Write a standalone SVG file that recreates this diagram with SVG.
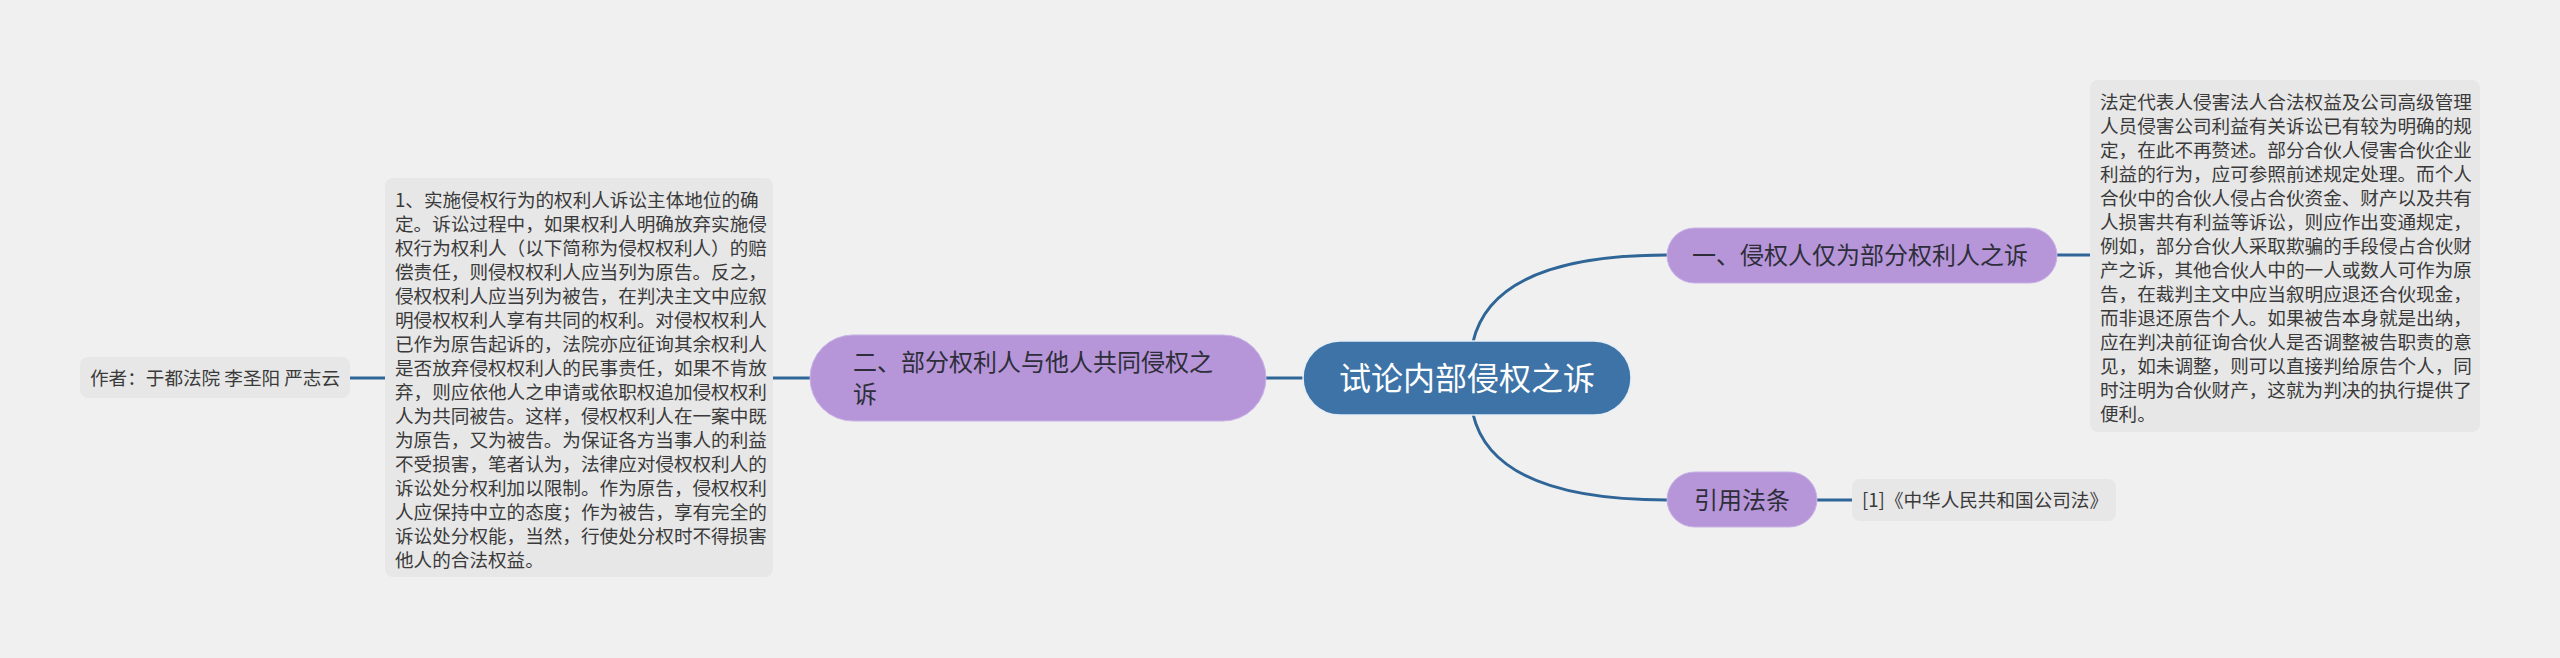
<svg xmlns="http://www.w3.org/2000/svg" width="2560" height="658" viewBox="0 0 2560 658">
<style>
.bg{fill:#f0f0f0}
.conn{fill:none;stroke:#2f6597;stroke-width:3}
.root{fill:#3d73a6;stroke:#e6eef6;stroke-width:1.5}
.sub{fill:#b696d9;stroke:#c8b2e6;stroke-width:1}
.leaf{fill:#e7e7e7}
.t{font-family:"Noto Sans CJK SC","Noto Sans",sans-serif;fill:#333}
.rt{font-size:32px;fill:#ffffff}
.st{font-size:24px;fill:#2e2e3a}
.lt{font-size:18.6px;fill:#3a3a3a}
</style>
<rect class="bg" x="0" y="0" width="2560" height="658"/>
<g id="connectors">
<path class="conn" d="M1473,342 Q1493,255 1667,255"/>
<path class="conn" d="M1473,414 Q1493,500 1667,500"/>
<path class="conn" d="M1266,378 L1303,378"/>
<path class="conn" d="M810,378 L773,378"/>
<path class="conn" d="M385,378 L350,378"/>
<path class="conn" d="M2057,255 L2090,255"/>
<path class="conn" d="M1817,500 L1852,500"/>
</g>
<g id="root">
<rect class="root" x="1303" y="341" width="328" height="74" rx="37"/>
<text class="t rt" x="1467" y="390" text-anchor="middle">试论内部侵权之诉</text>
</g>
<g id="node1">
<rect class="sub" x="1667" y="228" width="390" height="55" rx="27.5"/>
<text class="t st" x="1692" y="263.5">一、侵权人仅为部分权利人之诉</text>
</g>
<g id="node1-detail">
<rect class="leaf" x="2090" y="80" width="390" height="352" rx="8"/>
<text class="t lt" x="2100" y="108.5">
<tspan x="2100" y="108.5">法定代表人侵害法人合法权益及公司高级管理</tspan>
<tspan x="2100" y="132.5">人员侵害公司利益有关诉讼已有较为明确的规</tspan>
<tspan x="2100" y="156.5">定，在此不再赘述。部分合伙人侵害合伙企业</tspan>
<tspan x="2100" y="180.5">利益的行为，应可参照前述规定处理。而个人</tspan>
<tspan x="2100" y="204.5">合伙中的合伙人侵占合伙资金、财产以及共有</tspan>
<tspan x="2100" y="228.5">人损害共有利益等诉讼，则应作出变通规定，</tspan>
<tspan x="2100" y="252.5">例如，部分合伙人采取欺骗的手段侵占合伙财</tspan>
<tspan x="2100" y="276.5">产之诉，其他合伙人中的一人或数人可作为原</tspan>
<tspan x="2100" y="300.5">告，在裁判主文中应当叙明应退还合伙现金，</tspan>
<tspan x="2100" y="324.5">而非退还原告个人。如果被告本身就是出纳，</tspan>
<tspan x="2100" y="348.5">应在判决前征询合伙人是否调整被告职责的意</tspan>
<tspan x="2100" y="372.5">见，如未调整，则可以直接判给原告个人，同</tspan>
<tspan x="2100" y="396.5">时注明为合伙财产，这就为判决的执行提供了</tspan>
<tspan x="2100" y="420.5">便利。</tspan>
</text>
</g>
<g id="node-law">
<rect class="sub" x="1667" y="472" width="150" height="55" rx="27.5"/>
<text class="t st" x="1742" y="508.5" text-anchor="middle">引用法条</text>
</g>
<g id="law-detail">
<rect class="leaf" x="1852" y="479" width="264" height="42" rx="8"/>
<text class="t lt" x="1862" y="507">[1]《中华人民共和国公司法》</text>
</g>
<g id="node2">
<rect class="sub" x="810" y="335" width="456" height="86" rx="43"/>
<text class="t st" x="853" y="370.5">
<tspan x="853" y="370.5">二、部分权利人与他人共同侵权之</tspan>
<tspan x="853" y="403">诉</tspan>
</text>
</g>
<g id="node2-detail">
<rect class="leaf" x="385" y="178" width="388" height="399" rx="8"/>
<text class="t lt" x="395" y="207">
<tspan x="395" y="207">1、实施侵权行为的权利人诉讼主体地位的确</tspan>
<tspan x="395" y="231">定。诉讼过程中，如果权利人明确放弃实施侵</tspan>
<tspan x="395" y="255">权行为权利人（以下简称为侵权权利人）的赔</tspan>
<tspan x="395" y="279">偿责任，则侵权权利人应当列为原告。反之，</tspan>
<tspan x="395" y="303">侵权权利人应当列为被告，在判决主文中应叙</tspan>
<tspan x="395" y="327">明侵权权利人享有共同的权利。对侵权权利人</tspan>
<tspan x="395" y="351">已作为原告起诉的，法院亦应征询其余权利人</tspan>
<tspan x="395" y="375">是否放弃侵权权利人的民事责任，如果不肯放</tspan>
<tspan x="395" y="399">弃，则应依他人之申请或依职权追加侵权权利</tspan>
<tspan x="395" y="423">人为共同被告。这样，侵权权利人在一案中既</tspan>
<tspan x="395" y="447">为原告，又为被告。为保证各方当事人的利益</tspan>
<tspan x="395" y="471">不受损害，笔者认为，法律应对侵权权利人的</tspan>
<tspan x="395" y="495">诉讼处分权利加以限制。作为原告，侵权权利</tspan>
<tspan x="395" y="519">人应保持中立的态度；作为被告，享有完全的</tspan>
<tspan x="395" y="543">诉讼处分权能，当然，行使处分权时不得损害</tspan>
<tspan x="395" y="567">他人的合法权益。</tspan>
</text>
</g>
<g id="author">
<rect class="leaf" x="80" y="357" width="270" height="41" rx="8"/>
<text class="t lt" x="90" y="385">作者：于都法院 李圣阳 严志云</text>
</g>
</svg>
